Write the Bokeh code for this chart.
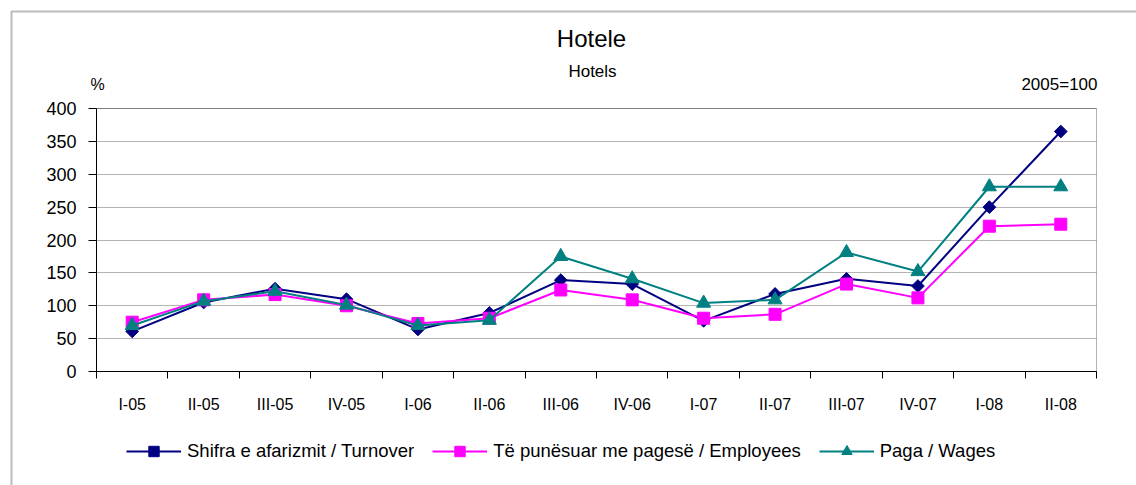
import math
from bokeh.plotting import figure
from bokeh.models import (Range1d, FixedTicker, Label, Legend, LegendItem,
                          BoxAnnotation, ColumnDataSource)
from bokeh.embed import file_html
from bokeh.resources import INLINE

# ---- data ----
categories = ["I-05", "II-05", "III-05", "IV-05", "I-06", "II-06", "III-06",
              "IV-06", "I-07", "II-07", "III-07", "IV-07", "I-08", "II-08"]
turnover = [61, 105, 126, 110, 64, 89, 139, 133, 77, 118, 141, 130, 250, 365]
employees = [75, 109, 117, 100, 73, 81, 124, 109, 81, 87, 133, 112, 221, 224]
wages = [70, 107, 122, 101, 70, 78, 175, 141, 104, 109, 181, 152, 281, 281]
y_ticks = [0, 50, 100, 150, 200, 250, 300, 350, 400]

series_names = ["Shifra e afarizmit / Turnover",
                "Të punësuar me pagesë / Employees",
                "Paga / Wages"]
title_text = "Hotele"
subtitle_text = "Hotels"
unit_text = "%"
base_text = "2005=100"

FONT = "Liberation Sans"
NAVY = "#000080"
MAGENTA = "#FF00FF"
TEAL = "#008080"

W, H = 1136, 485
# plot area in canvas pixels
PX_L, PX_R, PX_T, PX_B = 96, 1096, 108, 371

n = len(categories)
y_max = y_ticks[-1]
xs = [i + 0.5 for i in range(n)]

kx = (PX_R - PX_L) / n          # px per category
ky = (PX_B - PX_T) / y_max      # px per unit
x_range = Range1d(-PX_L / kx, n + (W - PX_R) / kx)
y_range = Range1d(-(H - PX_B) / ky, y_max + PX_T / ky)


def dx(px):
    return (px - PX_L) / kx


def dy(py):
    return (PX_B - py) / ky


p = figure(width=W, height=H, output_backend="svg", toolbar_location=None,
           x_range=x_range, y_range=y_range,
           min_border=0, min_border_left=0, min_border_right=0,
           min_border_top=0, min_border_bottom=0)
p.background_fill_color = "white"
p.border_fill_color = "white"
p.outline_line_color = None

# x axis: labels centred in categories, tick marks between categories
xa = p.xaxis[0]
xa.fixed_location = 0
xa.bounds = (0, n)
xa.ticker = FixedTicker(ticks=xs, minor_ticks=list(range(n + 1)))
xa.major_label_overrides = {x: c for x, c in zip(xs, categories)}
xa.major_tick_out = 0
xa.major_tick_in = 0
xa.minor_tick_out = 7
xa.minor_tick_in = 0
xa.minor_tick_line_color = "black"
xa.axis_line_color = "black"
xa.major_label_standoff = 17
xa.major_label_text_font = FONT
xa.major_label_text_font_size = "16px"
xa.major_label_text_color = "black"

ya = p.yaxis[0]
ya.fixed_location = 0
ya.bounds = (0, y_max)
ya.ticker = FixedTicker(ticks=y_ticks)
ya.major_tick_out = 8
ya.major_tick_in = 0
ya.minor_tick_line_color = None
ya.axis_line_color = "black"
ya.major_label_standoff = 12
ya.major_label_text_font = FONT
ya.major_label_text_font_size = "18px"
ya.major_label_text_color = "black"

p.xgrid.grid_line_color = None
grid_ok = True
try:
    p.ygrid.cross_bounds = (0, n)
except Exception:
    grid_ok = False
if grid_ok:
    p.ygrid.ticker = FixedTicker(ticks=y_ticks)
    p.ygrid.grid_line_color = "#b4b4b4"
    p.ygrid.grid_line_width = 1
else:
    p.ygrid.grid_line_color = None
    p.segment(x0=[0] * len(y_ticks), x1=[n] * len(y_ticks), y0=y_ticks,
              y1=y_ticks, line_color="#b4b4b4", line_width=1)

# plot-area border (top and right edges black)
p.add_layout(BoxAnnotation(left=0, right=n, bottom=0, top=y_max,
                           fill_alpha=0, line_color="black", line_width=1,
                           level="underlay"))

src = ColumnDataSource(dict(x=xs, t=turnover, e=employees, w=wages))

l1 = p.line("x", "t", source=src, line_color=NAVY, line_width=2)
m1 = p.scatter("x", "t", source=src, marker="square", angle=math.pi / 4,
               size=9, fill_color=NAVY, line_color=NAVY)
l2 = p.line("x", "e", source=src, line_color=MAGENTA, line_width=2)
m2 = p.scatter("x", "e", source=src, marker="square", size=12,
               fill_color=MAGENTA, line_color=MAGENTA)
l3 = p.line("x", "w", source=src, line_color=TEAL, line_width=2)
m3 = p.scatter("x", "w", source=src, marker="triangle", size=14,
               fill_color=TEAL, line_color=TEAL)

legend = Legend(items=[
    LegendItem(label=series_names[0], renderers=[l1, m1]),
    LegendItem(label=series_names[1], renderers=[l2, m2]),
    LegendItem(label=series_names[2], renderers=[l3, m3]),
], orientation="horizontal", location=(126, 21),
    glyph_width=55, glyph_height=26, label_standoff=6, spacing=18,
    padding=0, margin=0, border_line_color=None, background_fill_alpha=0,
    label_text_font=FONT, label_text_font_size="18.5px",
    label_text_color="black")
p.add_layout(legend, "center")

# texts
p.add_layout(Label(x=dx(591), y=dy(38), text=title_text, text_align="center",
                   text_baseline="middle", text_font=FONT,
                   text_font_size="24px", text_color="black"))
p.add_layout(Label(x=dx(592), y=dy(71), text=subtitle_text, text_align="center",
                   text_baseline="middle", text_font=FONT,
                   text_font_size="17px", text_color="black"))
p.add_layout(Label(x=dx(90), y=dy(84), text=unit_text, text_align="left",
                   text_baseline="middle", text_font=FONT,
                   text_font_size="16px", text_color="black"))
p.add_layout(Label(x=dx(1097), y=dy(84), text=base_text, text_align="right",
                   text_baseline="middle", text_font=FONT,
                   text_font_size="17px", text_color="black"))

# outer frame (only top and left edges fall inside the picture)
p.add_layout(BoxAnnotation(left=dx(11), top=dy(11), right=dx(W + 50),
                           bottom=dy(H + 50), fill_alpha=0,
                           line_color="#222222", line_width=2))

open("out.html", "w").write(file_html(p, INLINE))
